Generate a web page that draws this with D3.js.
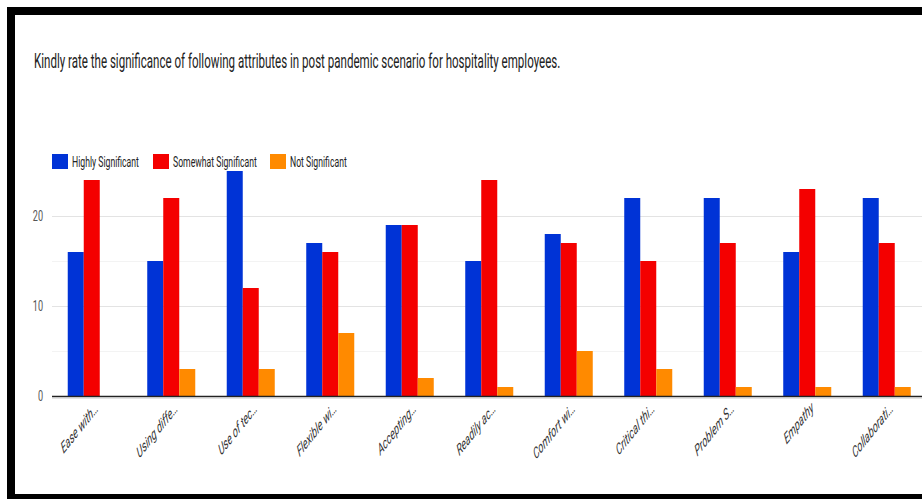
<!DOCTYPE html>
<html>
<head>
<meta charset="utf-8">
<script src="https://cdn.jsdelivr.net/npm/d3@7"></script>
<style>
  body { margin: 0; background: #fff; }
  svg { display: block; }
</style>
</head>
<body>
<svg id="canvas"></svg>
<script>
let categories = ["Ease with…", "Using diffe…", "Use of tec…", "Flexible wi…", "Accepting…",
  "Readily ac…", "Comfort wi…", "Critical thi…", "Problem S…", "Empathy", "Collaborati…"];

let seriesNames = ["Highly Significant", "Somewhat Significant", "Not Significant"];

let highly   = [16, 15, 25, 17, 19, 15, 18, 22, 22, 16, 22];
let somewhat = [24, 22, 12, 16, 19, 24, 17, 15, 17, 23, 17];
let notSig   = [0, 3, 3, 7, 2, 1, 5, 3, 1, 1, 1];

let yTicks = [0, 10, 20];
let yMinor = [5, 15];

let colors = ["#0033d6", "#f40000", "#ff8a00"];

let W = 922, H = 499;
let svg = d3.select("#canvas").attr("width", W).attr("height", H);

// black frame (top, left, bottom)
svg.append("rect").attr("x", 7).attr("y", 7).attr("width", W - 7).attr("height", 8).attr("fill", "#000");
svg.append("rect").attr("x", 7).attr("y", 7).attr("width", 8).attr("height", H - 7).attr("fill", "#000");
svg.append("rect").attr("x", 7).attr("y", 494).attr("width", W - 7).attr("height", 5).attr("fill", "#000");

// title (squeezed like the reference)
svg.append("text")
  .text("Kindly rate the significance of following attributes in post pandemic scenario for hospitality employees.")
  .attr("transform", "translate(34,68) scale(0.55,1)")
  .style("font-family", "Roboto, Arial, sans-serif")
  .style("font-size", "21px")
  .attr("fill", "#222");

let x0 = d3.scaleBand().domain(categories).range([52, 926.5]).paddingInner(0.396).paddingOuter(0.198);
let x1 = d3.scaleBand().domain(seriesNames).range([0, x0.bandwidth()]);
let y = d3.scaleLinear().domain([0, 25]).range([396, 171]);

// gridlines
svg.selectAll(".minor").data(yMinor).enter().append("line")
  .attr("x1", 52).attr("x2", W)
  .attr("y1", d => Math.round(y(d)) + 0.5).attr("y2", d => Math.round(y(d)) + 0.5)
  .attr("stroke", "#f3f3f3");
svg.selectAll(".major").data(yTicks.filter(d => d > 0)).enter().append("line")
  .attr("x1", 52).attr("x2", W)
  .attr("y1", d => Math.round(y(d)) + 0.5).attr("y2", d => Math.round(y(d)) + 0.5)
  .attr("stroke", "#e3e3e3");

// y labels
svg.selectAll(".ylab").data(yTicks).enter().append("text")
  .text(d => d)
  .attr("transform", d => "translate(43," + (y(d) + 5) + ") scale(0.65,1)")
  .attr("text-anchor", "end")
  .style("font-family", "Roboto, Arial, sans-serif")
  .style("font-size", "14px")
  .attr("fill", "#555");

// bars
let rows = categories.map((c, i) => ({ cat: c, vals: [highly[i], somewhat[i], notSig[i]] }));

let groups = svg.selectAll(".grp").data(rows).enter().append("g")
  .attr("transform", d => "translate(" + x0(d.cat) + ",0)");

groups.selectAll("rect")
  .data(d => d.vals.map((v, k) => ({ key: seriesNames[k], v: v, k: k })).filter(e => e.v > 0))
  .enter().append("rect")
  .attr("x", d => x1(d.key))
  .attr("y", d => y(d.v))
  .attr("width", x1.bandwidth())
  .attr("height", d => y(0) - y(d.v))
  .attr("fill", d => colors[d.k]);

// baseline
svg.append("line").attr("x1", 52).attr("x2", W).attr("y1", 396.5).attr("y2", 396.5)
  .attr("stroke", "#222").attr("stroke-width", 1.5);
svg.append("line").attr("x1", 52).attr("x2", W).attr("y1", 398).attr("y2", 398)
  .attr("stroke", "#c8c8c8").attr("stroke-width", 1);

// x labels, italic and slanted
svg.selectAll(".xlab").data(categories).enter().append("text")
  .text(d => d)
  .attr("transform", d => "translate(" + (x0(d) + x0.bandwidth() / 2 + 7) + ",410) scale(0.56,1) rotate(-35)")
  .attr("text-anchor", "end")
  .style("font-family", "Roboto, Arial, sans-serif")
  .style("font-size", "16px")
  .style("font-style", "italic")
  .attr("fill", "#333");

// legend
let legendX = [52, 153, 270];
let legend = svg.selectAll(".leg").data(seriesNames).enter().append("g")
  .attr("transform", (d, i) => "translate(" + legendX[i] + ",154)");
legend.append("rect").attr("width", 16).attr("height", 15).attr("fill", (d, i) => colors[i]);
legend.append("text")
  .text(d => d)
  .attr("transform", "translate(20,12.5) scale(0.62,1)")
  .style("font-family", "Roboto, Arial, sans-serif")
  .style("font-size", "14px")
  .attr("fill", "#222");
</script>
</body>
</html>
